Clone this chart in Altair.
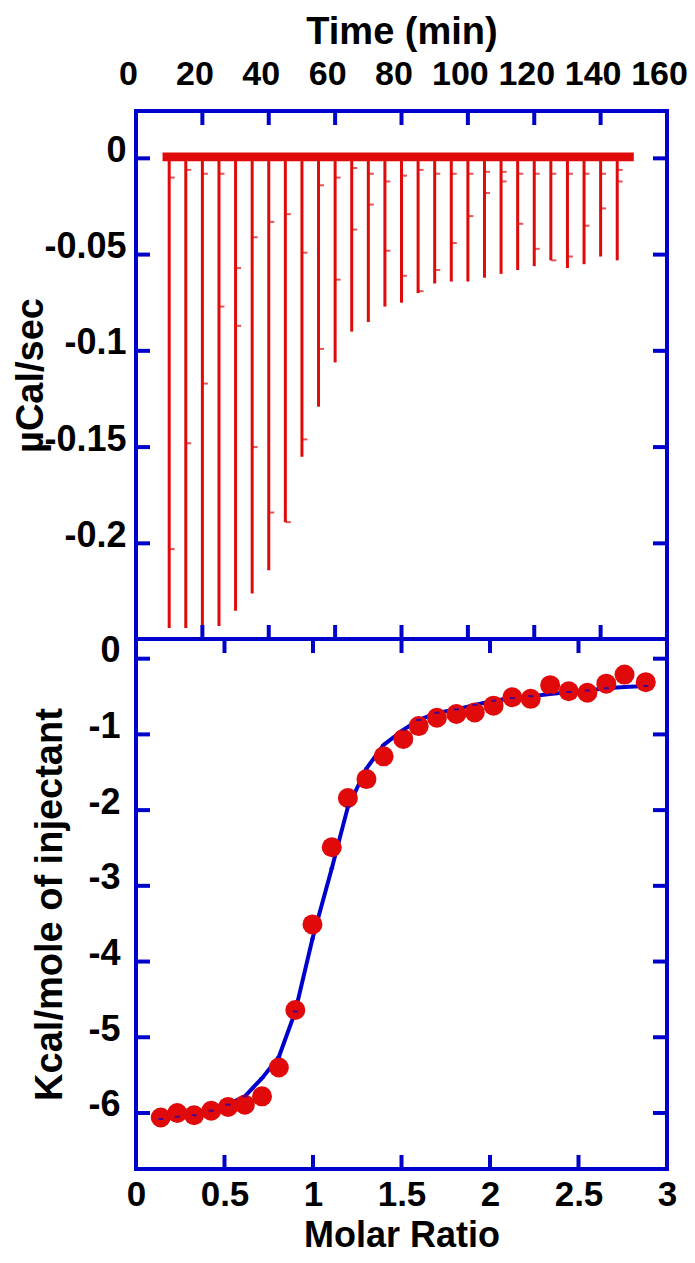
import altair as alt
import pandas as pd

# ---------------- Top panel: raw ITC thermogram ----------------
inj_time = [10, 15, 20, 25, 30, 35, 40, 45, 50, 55, 60, 65, 70, 75,
            80, 85, 90, 95, 100, 105, 110, 115, 120, 125, 130, 135, 140, 145]
peak_depth = [-0.244, -0.244, -0.244, -0.243, -0.235, -0.226, -0.214, -0.189,
              -0.155, -0.129, -0.106, -0.090, -0.085, -0.077, -0.075, -0.070,
              -0.065, -0.064, -0.064, -0.062, -0.060, -0.058, -0.056, -0.053,
              -0.057, -0.055, -0.051, -0.053]
nub_low = [-0.203, -0.148, -0.117, -0.077, -0.087, -0.150, -0.184, -0.189,
           -0.146, -0.099, -0.063, -0.037, -0.024, -0.048, -0.061, -0.069,
           -0.058, -0.044, -0.030, -0.018, -0.012, -0.034, -0.047, -0.053,
           -0.051, -0.035, -0.026, -0.012]
nub_high = [-0.010, -0.006, -0.008, -0.008, -0.057, -0.041, -0.033, -0.029,
            -0.049, -0.014, -0.010, -0.005, -0.008, -0.012, -0.009, -0.006,
            -0.008, -0.008, -0.008, -0.007, -0.007, -0.008, -0.008, -0.008,
            -0.008, -0.008, -0.008, -0.006]
baseline_time = [8, 150]
baseline_band = [-0.0015, 0.0030]

time_labels = [0, 20, 40, 60, 80, 100, 120, 140, 160]
time_ticks = [20, 40, 60, 80, 100, 120, 140]
power_ticks = [0, -0.05, -0.1, -0.15, -0.2]

# ---------------- Bottom panel: integrated heats ----------------
molar_ratio = [0.14, 0.233, 0.328, 0.425, 0.52, 0.615, 0.712, 0.807, 0.90,
               0.997, 1.106, 1.197, 1.302, 1.399, 1.51, 1.597, 1.70, 1.81,
               1.914, 2.02, 2.126, 2.23, 2.34, 2.445, 2.55, 2.657, 2.76, 2.88]
heat = [-6.06, -6.00, -6.03, -5.97, -5.92, -5.89, -5.78, -5.40, -4.64, -3.51,
        -2.49, -1.84, -1.59, -1.29, -1.06, -0.89, -0.78, -0.73, -0.71, -0.62,
        -0.51, -0.53, -0.35, -0.43, -0.45, -0.33, -0.21, -0.31]
fit = [-6.08, -6.05, -6.03, -5.97, -5.89, -5.78, -5.54, -5.26, -4.66, -3.70,
       -2.77, -1.96, -1.45, -1.14, -0.94, -0.81, -0.715, -0.67, -0.61, -0.556,
       -0.52, -0.495, -0.468, -0.44, -0.42, -0.39, -0.375, -0.36]

ratio_labels = [0, 0.5, 1, 1.5, 2, 2.5, 3]
ratio_ticks = [0.5, 1, 1.5, 2, 2.5]
heat_ticks = [0, -1, -2, -3, -4, -5, -6]

# ---------------- Styling ----------------
RED = "#E00A0A"
BLUE = "#0000CD"
FONT = "Liberation Sans"
W, H1, H2 = 531, 528, 530
TL = 14  # inner tick length

# ---------------- Top panel ----------------
t_scale = alt.Scale(domain=[0, 160], nice=False, zero=False)
p_scale = alt.Scale(domain=[-0.2497, 0.0246], nice=False, zero=False)
t_axis = alt.Axis(orient="top", values=time_labels, title="Time (min)",
                  labelExpr="'' + datum.value", labelOffset=-8, labelPadding=20,
                  labelFontSize=34, labelOverlap=False, labelFlush=False,
                  titleBaseline="alphabetic", titleY=-68)
p_axis = alt.Axis(orient="left", values=power_ticks, title="µCal/sec",
                  labelExpr="'' + datum.value", labelOffset=-8, labelPadding=10,
                  labelFontSize=36, labelOverlap=False, labelFlush=False,
                  titleBaseline="alphabetic", titleX=-94, titleY=H1 / 2)

spikes = pd.DataFrame({"t": inj_time, "d": peak_depth, "z": [0] * len(inj_time)})
nubs = pd.concat([
    pd.DataFrame({"t": inj_time, "n": nub_low}),
    pd.DataFrame({"t": inj_time, "n": nub_high}),
]).dropna()
base = pd.DataFrame({"t": [baseline_time[0]], "t2": [baseline_time[1]],
                     "lo": [baseline_band[0]], "hi": [baseline_band[1]]})

X1 = alt.X("t:Q", scale=t_scale, axis=t_axis)
Y1 = lambda f: alt.Y(f, scale=p_scale, axis=p_axis)

band = alt.Chart(base).mark_rect(color=RED).encode(
    x=X1, x2="t2:Q", y=Y1("lo:Q"), y2="hi:Q")
spike_rules = alt.Chart(spikes).mark_rule(color=RED, strokeWidth=3).encode(
    x=X1, y=Y1("z:Q"), y2="d:Q")
nub_marks = alt.Chart(nubs).mark_tick(color=RED, orient="horizontal", size=5,
                                      thickness=2, xOffset=3).encode(
    x=X1, y=Y1("n:Q"))

pt = pd.DataFrame({"v": power_ticks})
tt = pd.DataFrame({"t": time_ticks})
rule = dict(color=BLUE, strokeWidth=4, strokeCap="butt")
top_ticks = [
    alt.Chart(pt).mark_rule(**rule).encode(y=Y1("v:Q"), x=alt.value(0), x2=alt.value(TL)),
    alt.Chart(pt).mark_rule(**rule).encode(y=Y1("v:Q"), x=alt.value(W - TL), x2=alt.value(W)),
    alt.Chart(tt).mark_rule(**rule).encode(x=X1, y=alt.value(0), y2=alt.value(TL)),
    alt.Chart(tt).mark_rule(**rule).encode(x=X1, y=alt.value(H1 - TL), y2=alt.value(H1)),
]
top = alt.layer(band, spike_rules, nub_marks, *top_ticks).properties(width=W, height=H1)

# ---------------- Bottom panel ----------------
r_scale = alt.Scale(domain=[0, 3], nice=False, zero=False)
h_scale = alt.Scale(domain=[-6.74, 0.26], nice=False, zero=False)
r_axis = alt.Axis(orient="bottom", values=ratio_labels, title="Molar Ratio",
                  labelExpr="'' + datum.value", labelPadding=8,
                  labelFontSize=35, labelOverlap=False, labelFlush=False,
                  titleFontSize=36, titleBaseline="alphabetic", titleY=77)
h_axis = alt.Axis(orient="left", values=heat_ticks, title="Kcal/mole of injectant",
                  labelExpr="'' + datum.value", labelOffset=-8, labelPadding=16,
                  labelFontSize=36, labelOverlap=False, labelFlush=False,
                  titleBaseline="alphabetic", titleX=-75, titleY=H2 / 2)
X2 = alt.X("r:Q", scale=r_scale, axis=r_axis)
Y2 = lambda f: alt.Y(f, scale=h_scale, axis=h_axis)

pts = pd.DataFrame({"r": molar_ratio, "h": heat, "f": fit})
fit_line = alt.Chart(pts).mark_line(color=BLUE, strokeWidth=4).encode(x=X2, y=Y2("f:Q"))
dots = alt.Chart(pts).mark_circle(color=RED, size=400, opacity=1).encode(x=X2, y=Y2("h:Q"))
dashes = alt.Chart(pts).mark_tick(color=BLUE, orient="horizontal", size=5,
                                  thickness=2).encode(x=X2, y=Y2("f:Q"))

ht = pd.DataFrame({"v": heat_ticks})
rt = pd.DataFrame({"r": ratio_ticks})
bot_ticks = [
    alt.Chart(ht).mark_rule(**rule).encode(y=Y2("v:Q"), x=alt.value(0), x2=alt.value(TL)),
    alt.Chart(ht).mark_rule(**rule).encode(y=Y2("v:Q"), x=alt.value(W - TL), x2=alt.value(W)),
    alt.Chart(rt).mark_rule(**rule).encode(x=X2, y=alt.value(0), y2=alt.value(TL)),
    alt.Chart(rt).mark_rule(**rule).encode(x=X2, y=alt.value(H2 - TL), y2=alt.value(H2)),
]
bottom = alt.layer(fit_line, dots, dashes, *bot_ticks).properties(width=W, height=H2)

chart = alt.vconcat(top, bottom, spacing=0, bounds="flush").properties(
    padding={"left": 2, "top": 3, "right": -3, "bottom": 0}
).configure_view(
    stroke=BLUE, strokeWidth=4
).configure_axis(
    domain=False, ticks=False, grid=False,
    labelFont=FONT, labelFontWeight="bold", labelColor="black",
    titleFont=FONT, titleFontSize=38, titleFontWeight="bold", titleColor="black",
)

chart.save("out.html", embed_options={"renderer": "svg", "actions": False})
